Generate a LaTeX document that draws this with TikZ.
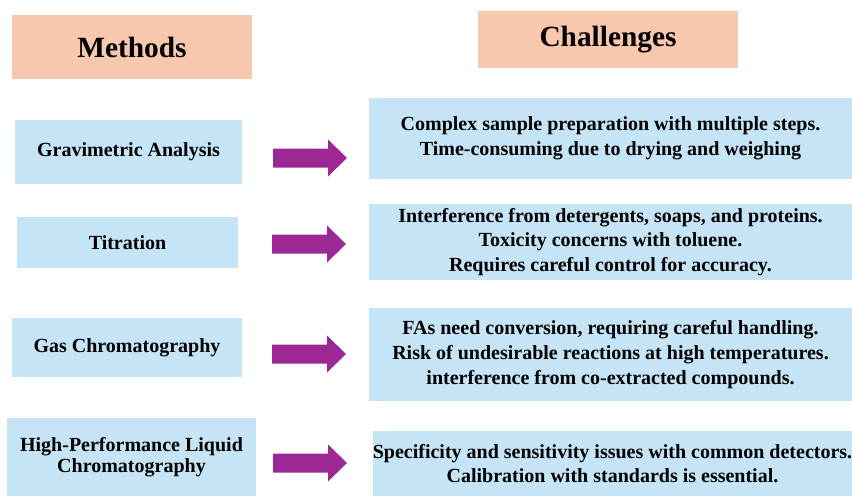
\documentclass[tikz,border=0pt]{standalone}
\usepackage{fontspec}
\setmainfont{Liberation Serif}
\usetikzlibrary{positioning}

\definecolor{peach}{RGB}{247,199,174}
\definecolor{skyblue}{RGB}{197,228,245}
\definecolor{plum}{RGB}{156,40,150}

\begin{document}
\begin{tikzpicture}[x=0.75pt,y=-0.75pt,
    head/.style={fill=peach,draw=none,align=center,inner sep=0pt,
      font=\fontsize{22}{26}\selectfont\bfseries},
    method/.style={fill=skyblue,draw=none,align=center,inner sep=0pt,
      font=\fontsize{15}{16}\selectfont\bfseries},
    issue/.style={fill=skyblue,draw=none,align=center,inner sep=0pt,
      font=\fontsize{15}{18.5}\selectfont\bfseries},
    arw/.style={fill=plum,draw=none}]
  \useasboundingbox (0,0) rectangle (852,496);

        % headers
        \node[head,minimum width=180pt,minimum height=48pt]    (M) at (132,47)   {Methods};
        \node[head,minimum width=195pt,minimum height=42.75pt] (C) at (608,39.5) {Challenges};

        % methods
        \node[method,minimum width=170.25pt,minimum height=48pt]    (m1) at (128.5,152) {Gravimetric Analysis};
        \node[method,minimum width=165.75pt,minimum height=38.25pt] (m2) at (127.5,242.5) {Titration};
        \node[method,minimum width=172.5pt,minimum height=44.25pt]  (m3) at (127,347.5) {Gas Chromatography};
        \node[method,minimum width=186.75pt,minimum height=58.5pt]  (m4) at (131.5,457)
          {High-Performance Liquid\\Chromatography};

        % challenges
        \node[issue,minimum width=362.25pt,minimum height=60.75pt] (c1) at (610.5,138.5)
          {Complex sample preparation with multiple steps.\\
           Time-consuming due to drying and weighing};
        \node[issue,minimum width=362.25pt,minimum height=57pt] (c2) at (610.5,242)
          {Interference from detergents, soaps, and proteins.\\
           Toxicity concerns with toluene.\\
           Requires careful control for accuracy.};
        \node[issue,minimum width=362.25pt,minimum height=69.75pt] (c3) at (610.5,354.5)
          {FAs need conversion, requiring careful handling.\\
           Risk of undesirable reactions at high temperatures.\\
           interference from co-extracted compounds.};
        \node[issue,minimum width=359.25pt,minimum height=48.75pt] (c4) at (612.5,463.5)
          {Specificity and sensitivity issues with common detectors.\\
           Calibration with standards is essential.};

        % block arrows
        \coordinate (a1) at (273,158);
        \coordinate (a2) at (272,244);
        \coordinate (a3) at (272,354);
        \coordinate (a4) at (273,463);
        \foreach \a in {a1,a2,a3,a4}
          \fill[arw] (\a) ++(0,-9.5) -- ++(55,0) -- ++(0,-9) -- ++(19,18.5)
            -- ++(-19,18.5) -- ++(0,-9) -- ++(-55,0) -- cycle;

\end{tikzpicture}
\end{document}
